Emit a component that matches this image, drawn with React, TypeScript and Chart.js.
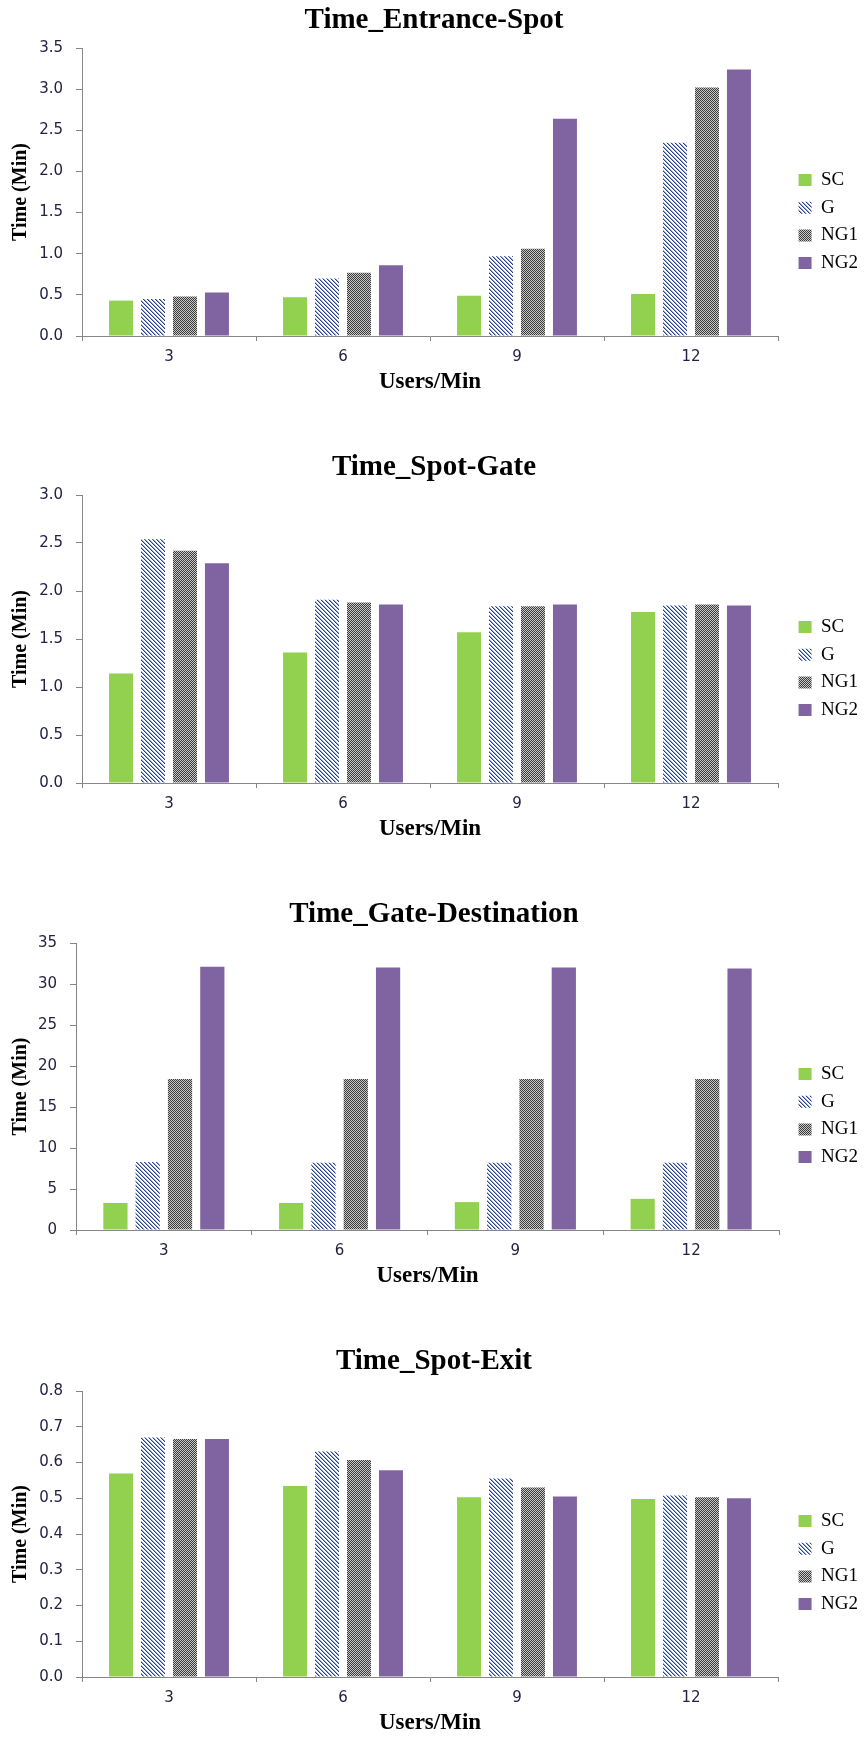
import React, { useEffect, useRef } from 'react';
import { Chart, registerables } from 'chart.js';

Chart.register(...registerables);

// ---------- data ----------
const categories = ['3', '6', '9', '12'];
const seriesNames = ['SC', 'G', 'NG1', 'NG2'];

// Time_Entrance-Spot
const entranceSpotSC = [0.43, 0.47, 0.49, 0.51];
const entranceSpotG = [0.45, 0.7, 0.97, 2.35];
const entranceSpotNG1 = [0.48, 0.77, 1.06, 3.02];
const entranceSpotNG2 = [0.53, 0.86, 2.64, 3.24];

// Time_Spot-Gate
const spotGateSC = [1.14, 1.36, 1.57, 1.78];
const spotGateG = [2.54, 1.91, 1.84, 1.85];
const spotGateNG1 = [2.42, 1.88, 1.84, 1.86];
const spotGateNG2 = [2.29, 1.86, 1.86, 1.85];

// Time_Gate-Destination
const gateDestSC = [3.3, 3.3, 3.4, 3.8];
const gateDestG = [8.3, 8.2, 8.2, 8.2];
const gateDestNG1 = [18.4, 18.4, 18.4, 18.4];
const gateDestNG2 = [32.1, 32.0, 32.0, 31.9];

// Time_Spot-Exit
const spotExitSC = [0.569, 0.534, 0.503, 0.498];
const spotExitG = [0.67, 0.631, 0.555, 0.508];
const spotExitNG1 = [0.666, 0.607, 0.53, 0.503];
const spotExitNG2 = [0.666, 0.578, 0.505, 0.5];

// ---------- styling ----------
const W = 868;
const ZERO_Y = 336;
const AXIS_COLOR = '#868686';
const TICK_COLOR = '#222244';
const SERIF = "'Liberation Serif', 'Times New Roman', serif";
const SANS = "'DejaVu Sans', Verdana, sans-serif";

function makeHatch(ctx: CanvasRenderingContext2D): CanvasPattern | string {
  const c = document.createElement('canvas');
  c.width = 4;
  c.height = 4;
  const x = c.getContext('2d')!;
  x.fillStyle = '#ffffff';
  x.fillRect(0, 0, 4, 4);
  for (let i = 0; i < 4; i++) {
    x.fillStyle = '#24408E';
    x.fillRect(i, i, 1, 1);
    x.fillStyle = '#9AAAD6';
    x.fillRect((i + 1) % 4, i, 1, 1);
  }
  return ctx.createPattern(c, 'repeat') || '#6f82b8';
}

function makeChecker(ctx: CanvasRenderingContext2D): CanvasPattern | string {
  const c = document.createElement('canvas');
  c.width = 2;
  c.height = 2;
  const x = c.getContext('2d')!;
  x.fillStyle = '#c8c8c8';
  x.fillRect(0, 0, 2, 2);
  x.fillStyle = '#3a3a3a';
  x.fillRect(0, 0, 1, 1);
  x.fillRect(1, 1, 1, 1);
  return ctx.createPattern(c, 'repeat') || '#808080';
}

type PanelProps = {
  title: string;
  sc: number[];
  g: number[];
  ng1: number[];
  ng2: number[];
  yMax: number;
  yStep: number;
  decimals: number;
  axisLeft: number;
  axisRight: number;
  plotTop: number;
  height: number;
  top: number;
};

function Panel(p: PanelProps) {
  const ref = useRef<HTMLCanvasElement>(null);

  useEffect(() => {
    const canvas = ref.current;
    if (!canvas) return;
    const ctx = canvas.getContext('2d')!;
    const hatch = makeHatch(ctx);
    const checker = makeChecker(ctx);

    const titleSize = 29;
    const titlePadTop = 3;
    const titlePadBottom = p.plotTop - titlePadTop - titleSize * 1.2;

    const xTickLen = 5;
    const xTickPad = 7;
    const xTickSize = 15;
    const xTitleSize = 23;
    const xTitlePadTop = 2.4;
    const axisBoxH = xTickLen + xTickPad + xTickSize * 1.2 + xTitleSize * 1.2 + xTitlePadTop;
    const legendBottom = ZERO_Y + axisBoxH;
    const layoutBottom = Math.max(0, p.height - legendBottom);

    const lgFont = 19;
    const lgPad = 8.7;
    const colH = 4 * (lgFont + lgPad);
    const firstCenter = 180;
    const titleH = 2 * (firstCenter - lgFont / 2) - lgPad - legendBottom + colH;
    const lgTitlePadBottom = Math.max(0, titleH - 12);

    const values = [p.sc, p.g, p.ng1, p.ng2];
    const fills: (string | CanvasPattern)[] = ['#92D050', hatch, checker, '#8064A2'];

    const chart = new Chart(canvas, {
      type: 'bar',
      data: {
        labels: categories,
        datasets: seriesNames.map((name, i) => ({
          label: name,
          data: values[i],
          backgroundColor: fills[i] as any,
          borderWidth: 0,
          xAxisID: 'x',
          yAxisID: 'y',
          categoryPercentage: 0.735,
          barPercentage: 0.75,
        })),
      },
      options: {
        responsive: false,
        maintainAspectRatio: false,
        animation: false,
        devicePixelRatio: 1,
        layout: { padding: { left: 0, right: 0, top: 0, bottom: layoutBottom } },
        plugins: {
          tooltip: { enabled: false },
          title: {
            display: true,
            text: p.title,
            color: '#000000',
            font: { family: SERIF, size: titleSize, weight: 'bold' },
            padding: { top: titlePadTop, bottom: titlePadBottom },
          },
          legend: {
            display: true,
            position: 'right',
            align: 'center',
            title: {
              display: true,
              text: ' ',
              font: { size: 10 },
              padding: { top: 0, bottom: lgTitlePadBottom },
            },
            labels: {
              boxWidth: 13,
              boxHeight: 12,
              padding: lgPad,
              color: '#000000',
              font: { family: SERIF, size: lgFont },
            },
          },
        },
        scales: {
          x: {
            type: 'category',
            position: 'bottom',
            grid: {
              display: true,
              drawOnChartArea: false,
              drawTicks: true,
              tickLength: xTickLen,
              color: AXIS_COLOR,
              offset: true,
            },
            border: { display: true, color: AXIS_COLOR, width: 1 },
            ticks: {
              padding: xTickPad,
              color: TICK_COLOR,
              font: { family: SANS, size: xTickSize },
            },
            title: {
              display: true,
              text: 'Users/Min',
              color: '#000000',
              font: { family: SERIF, size: xTitleSize, weight: 'bold' },
              padding: { top: xTitlePadTop, bottom: 0 },
            },
            afterFit: (s: any) => {
              s.height = axisBoxH;
            },
          },
          y: {
            type: 'linear',
            position: 'left',
            min: 0,
            max: p.yMax,
            grid: {
              display: true,
              drawOnChartArea: false,
              drawTicks: true,
              tickLength: 6,
              color: AXIS_COLOR,
            },
            border: { display: true, color: AXIS_COLOR, width: 1 },
            ticks: {
              stepSize: p.yStep,
              padding: 13,
              color: TICK_COLOR,
              font: { family: SANS, size: 15 },
              callback: (v: any) => Number(v).toFixed(p.decimals),
            },
            title: {
              display: true,
              text: 'Time (Min)',
              color: '#000000',
              font: { family: SERIF, size: 20, weight: 'bold' },
              padding: { top: 9, bottom: 0 },
            },
            afterFit: (s: any) => {
              s.width = p.axisLeft;
            },
          },
          yR: {
            type: 'linear',
            position: 'right',
            display: true,
            grid: { display: false },
            border: { display: false },
            ticks: { display: false },
            afterFit: (s: any) => {
              const lg = s.chart.legend;
              s.width = Math.max(0, W - (lg ? lg.width : 0) - p.axisRight);
            },
          },
        },
      } as any,
    });

    return () => {
      chart.destroy();
    };
  }, []);

  return (
    <div style={{ position: 'absolute', left: 0, top: p.top, width: W, height: p.height }}>
      <canvas ref={ref} width={W} height={p.height} style={{ display: 'block' }} />
    </div>
  );
}

export default function App() {
  return (
    <div
      style={{
        position: 'absolute',
        left: 0,
        top: 0,
        width: W,
        height: 1737,
        overflow: 'hidden',
        background: '#ffffff',
      }}
    >
      <Panel
        title="Time_Entrance-Spot"
        sc={entranceSpotSC}
        g={entranceSpotG}
        ng1={entranceSpotNG1}
        ng2={entranceSpotNG2}
        yMax={3.5}
        yStep={0.5}
        decimals={1}
        axisLeft={82}
        axisRight={778}
        plotTop={48}
        height={447}
        top={0}
      />
      <Panel
        title="Time_Spot-Gate"
        sc={spotGateSC}
        g={spotGateG}
        ng1={spotGateNG1}
        ng2={spotGateNG2}
        yMax={3.0}
        yStep={0.5}
        decimals={1}
        axisLeft={82}
        axisRight={778}
        plotTop={48}
        height={447}
        top={447}
      />
      <Panel
        title="Time_Gate-Destination"
        sc={gateDestSC}
        g={gateDestG}
        ng1={gateDestNG1}
        ng2={gateDestNG2}
        yMax={35}
        yStep={5}
        decimals={0}
        axisLeft={76}
        axisRight={779}
        plotTop={49}
        height={447}
        top={894}
      />
      <Panel
        title="Time_Spot-Exit"
        sc={spotExitSC}
        g={spotExitG}
        ng1={spotExitNG1}
        ng2={spotExitNG2}
        yMax={0.8}
        yStep={0.1}
        decimals={1}
        axisLeft={82}
        axisRight={778}
        plotTop={50}
        height={396}
        top={1341}
      />
    </div>
  );
}
